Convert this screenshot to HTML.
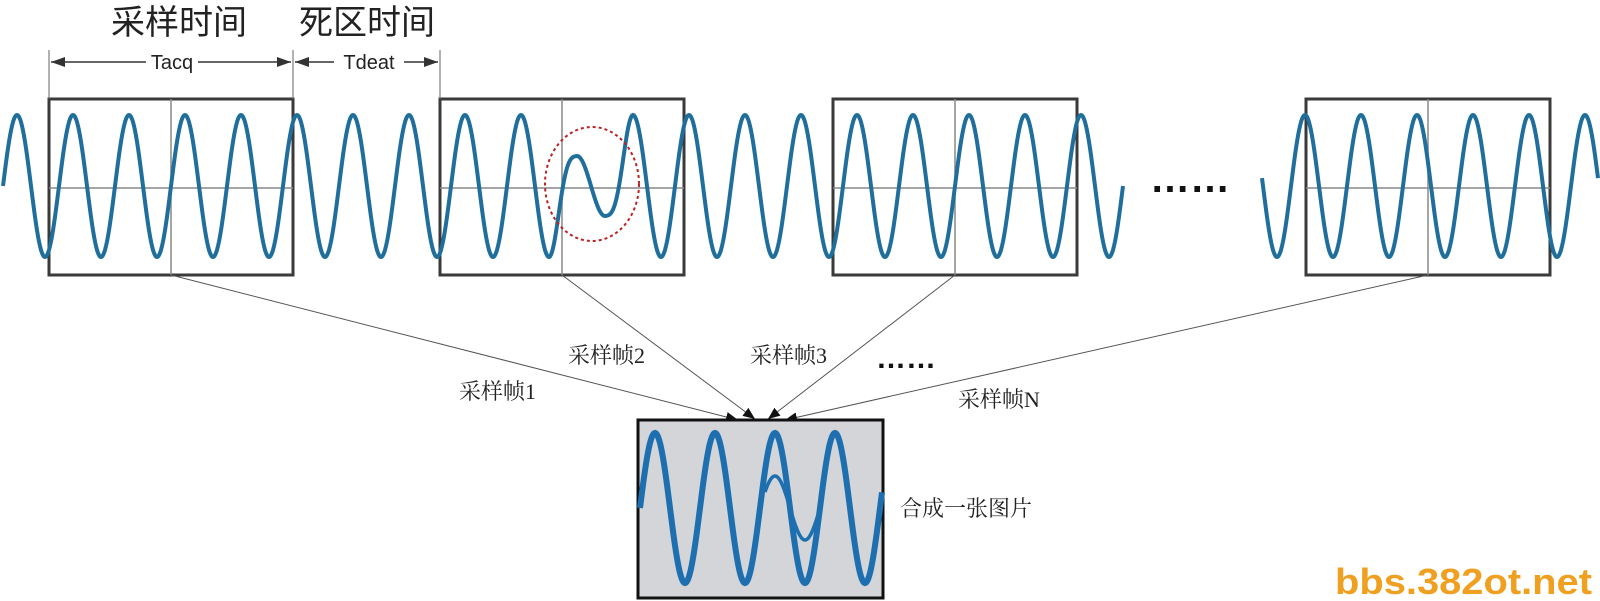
<!DOCTYPE html>
<html><head><meta charset="utf-8"><style>
body{margin:0;background:#fff;width:1600px;height:601px;overflow:hidden}
svg{display:block}
.t{font-family:"Liberation Serif","Noto Serif CJK SC",serif;font-size:22px;fill:#222}
</style></head><body>
<svg id="s" width="1600" height="601" viewBox="0 0 1600 601" xmlns="http://www.w3.org/2000/svg">
<defs>
<marker id="ah" markerWidth="12" markerHeight="10" refX="12" refY="5" orient="auto" markerUnits="userSpaceOnUse"><path d="M0,0 L12,5 L0,10 Z" fill="#111"/></marker>
<marker id="ad" markerWidth="14" markerHeight="10" refX="14" refY="5" orient="auto" markerUnits="userSpaceOnUse"><path d="M0,0 L14,5 L0,10 Z" fill="#333"/></marker>
</defs>
<g id="boxes"></g>
<path id="w1" fill="none" stroke="#1f6e9c" stroke-width="4"/>
<path id="w2" fill="none" stroke="#1f6e9c" stroke-width="4"/>
<ellipse cx="592" cy="184" rx="47" ry="57" fill="none" stroke="#b22" stroke-width="2" stroke-dasharray="3,3"/>
<g stroke="#666" stroke-width="1">
<line x1="49" y1="50" x2="49" y2="99"/><line x1="293" y1="50" x2="293" y2="99"/><line x1="440" y1="50" x2="440" y2="99"/>
</g>
<g stroke="#333" stroke-width="1.5">
<line x1="146" y1="62" x2="51" y2="62" marker-end="url(#ad)"/>
<line x1="198" y1="62" x2="291" y2="62" marker-end="url(#ad)"/>
<line x1="334" y1="62" x2="295" y2="62" marker-end="url(#ad)"/>
<line x1="404" y1="62" x2="438" y2="62" marker-end="url(#ad)"/>
</g>
<text x="172" y="69" font-family="Liberation Sans,sans-serif" font-size="20" text-anchor="middle" fill="#222">Tacq</text>
<text x="369" y="69" font-family="Liberation Sans,sans-serif" font-size="20" text-anchor="middle" fill="#222">Tdeat</text>
<text x="179" y="34" font-family="Liberation Sans,'Noto Sans CJK SC',sans-serif" font-size="34" text-anchor="middle" fill="#222">采样时间</text>
<text x="367" y="34" font-family="Liberation Sans,'Noto Sans CJK SC',sans-serif" font-size="34" text-anchor="middle" fill="#222">死区时间</text>
<text x="1190" y="192" font-family="Liberation Sans,sans-serif" font-size="40" font-weight="bold" text-anchor="middle" fill="#111">……</text>
<g stroke="#555" stroke-width="1">
<line x1="171" y1="275" x2="738" y2="420" marker-end="url(#ah)"/>
<line x1="562" y1="275" x2="755" y2="419" marker-end="url(#ah)"/>
<line x1="955" y1="275" x2="768" y2="419" marker-end="url(#ah)"/>
<line x1="1428" y1="275" x2="785" y2="420" marker-end="url(#ah)"/>
</g>
<rect x="638" y="420" width="245" height="178" fill="#d3d5d8" stroke="#111" stroke-width="3"/>
<path id="w3" fill="none" stroke="#1d6fb0" stroke-width="6"/>
<path id="w4" fill="none" stroke="#1d6fb0" stroke-width="3.5"/>
<text class="t" x="459" y="399">采样帧1</text>
<text class="t" x="568" y="363">采样帧2</text>
<text class="t" x="750" y="363">采样帧3</text>
<text x="876" y="368" font-family="Liberation Sans,sans-serif" font-size="30" font-weight="bold" fill="#111">……</text>
<text class="t" x="958" y="407">采样帧N</text>
<text class="t" x="900" y="516">合成一张图片</text>
<text x="1335" y="594" font-family="Liberation Sans,sans-serif" font-size="36" font-weight="bold" fill="#f0a020" textLength="257" lengthAdjust="spacingAndGlyphs">bbs.382ot.net</text>
</svg>
<script>
var NS="http://www.w3.org/2000/svg";
function wave(x0,x1,f){var d="";for(var x=x0;x<=x1;x+=1){d+=(x==x0?"M":"L")+x+","+f(x).toFixed(1)+" ";}return d;}
function A(x){if(x<549||x>633)return 71;if(x<577)return 30+41*(0.5+0.5*Math.cos(Math.PI*(x-549)/28));if(x>605)return 30+41*(0.5-0.5*Math.cos(Math.PI*(x-605)/28));return 30;}
function f1(x){return 186-A(x)*Math.sin(2*Math.PI*(x-3)/56);}
document.getElementById("w1").setAttribute("d",wave(3,1123,f1));
document.getElementById("w2").setAttribute("d",wave(1262,1598,function(x){return 186-71*Math.sin(2*Math.PI*(x-3)/56);}));
function f3(x){return 508-75*Math.sin(2*Math.PI*(x-640)/60);}
document.getElementById("w3").setAttribute("d",wave(640,882,f3));
document.getElementById("w4").setAttribute("d",wave(765,818,function(x){return 508-32*Math.sin(2*Math.PI*(x-760)/60);}));
var g=document.getElementById("boxes");
[49,440,833,1306].forEach(function(x){
 var r=document.createElementNS(NS,"rect");r.setAttribute("x",x);r.setAttribute("y",99);r.setAttribute("width",244);r.setAttribute("height",176);
 r.setAttribute("fill","#fff");r.setAttribute("stroke","#3a3a3a");r.setAttribute("stroke-width","3");g.appendChild(r);
 var l=document.createElementNS(NS,"line");l.setAttribute("x1",x+122);l.setAttribute("x2",x+122);l.setAttribute("y1",99);l.setAttribute("y2",275);l.setAttribute("stroke","#888");l.setAttribute("stroke-width","1.5");g.appendChild(l);
 var h=document.createElementNS(NS,"line");h.setAttribute("x1",x);h.setAttribute("x2",x+244);h.setAttribute("y1",188);h.setAttribute("y2",188);h.setAttribute("stroke","#888");h.setAttribute("stroke-width","1.5");g.appendChild(h);
});
</script>
</body></html>
